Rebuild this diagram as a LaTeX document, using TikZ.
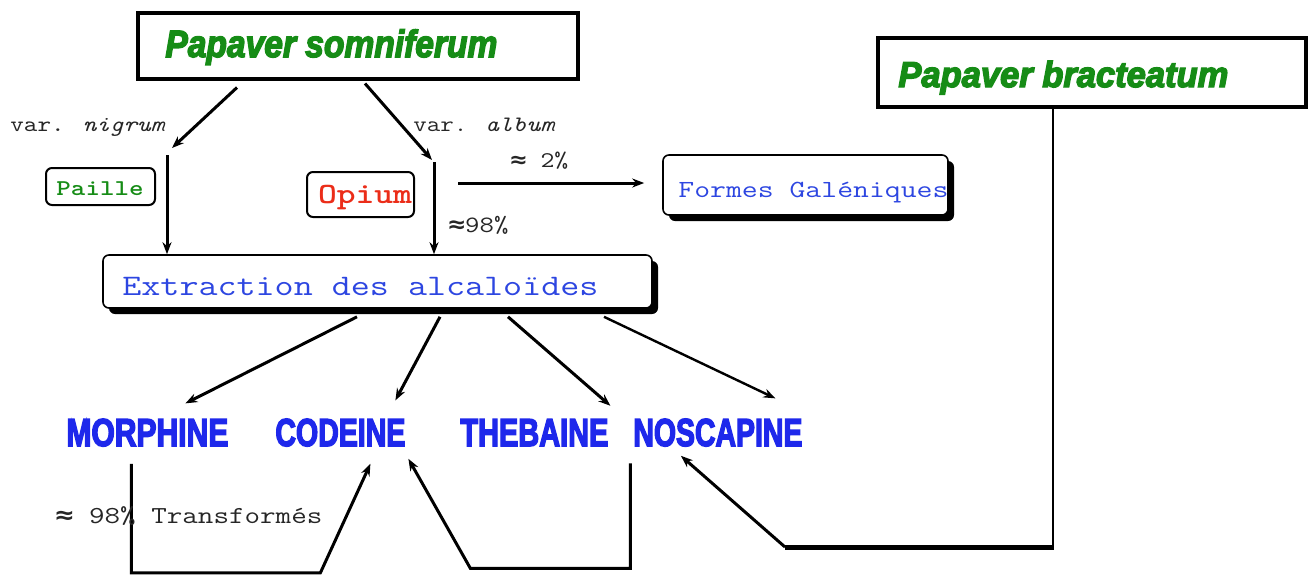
\documentclass[tikz,border=0pt]{standalone}
\usepackage{fontspec}
\usepackage{graphicx}
\setmainfont{Liberation Sans}
\newfontfamily\aprx{DejaVu Sans Mono}
\newfontfamily\heavyfont{Liberation Sans}[BoldFeatures={FakeBold=4},BoldItalicFeatures={FakeBold=4}]
\usetikzlibrary{arrows.meta,calc,shadows}
\definecolor{pgreen}{RGB}{22,140,22}
\definecolor{kblue}{RGB}{30,40,235}
\definecolor{tblue}{RGB}{45,70,225}
\definecolor{ored}{RGB}{235,45,25}
\newcommand\fitw[2]{\resizebox{#1}{\height}{#2}}
\newcommand\ap{{\aprx\bfseries ≈}}
\begin{document}
\begin{tikzpicture}[x=0.5pt,y=-0.5pt,
  arr/.style={line width=1.5pt,-{Stealth[length=6pt,width=4.5pt]}},
  titlebox/.style={draw,line width=2pt,inner sep=0pt},
  smallbox/.style={draw,line width=1pt,rounded corners=3pt,inner sep=0pt},
  shadebox/.style={draw,line width=0.8pt,rounded corners=3pt,inner sep=0pt,fill=white,
    drop shadow={shadow xshift=3pt,shadow yshift=-3pt,opacity=1,fill=black}},
  ptext/.style={inner sep=0pt,anchor=base west,text=pgreen,font={\heavyfont\bfseries\itshape\fontsize{19pt}{19pt}\selectfont}},
  alk/.style={inner sep=0pt,anchor=base west,text=kblue,font={\heavyfont\bfseries\fontsize{19.5pt}{19.5pt}\selectfont}},
  lbl/.style={inner sep=0pt,anchor=base west,text=black!85}
]
\useasboundingbox (0,0) rectangle (1313,574);

% title boxes
\node[titlebox,minimum width=220pt,minimum height=33pt] (som) at (358,45.5) {};
\node[ptext] (somT) at (165,57) {\fitw{166pt}{Papaver somniferum}};
\node[titlebox,minimum width=214pt,minimum height=34.5pt] (brac) at (1092,72.5) {};
\node[ptext,font={\heavyfont\bfseries\itshape\fontsize{18pt}{18pt}\selectfont}] (bracT) at (898,87) {\fitw{165pt}{Papaver bracteatum}};

% small boxes
\node[smallbox,minimum width=54.5pt,minimum height=18.5pt] (paille) at (100.5,186.5) {};
\node[inner sep=0pt,anchor=base,text=pgreen,font={\ttfamily\bfseries\fontsize{11.3pt}{11.3pt}\selectfont}] (pailleT) at (100,195) {\fitw{43.5pt}{Paille}};
\node[smallbox,minimum width=53.5pt,minimum height=22.5pt] (opium) at (360.5,194.5) {};
\node[inner sep=0pt,anchor=base,text=ored,font={\ttfamily\bfseries\fontsize{14.7pt}{14.7pt}\selectfont}] (opiumT) at (365,203) {\fitw{47pt}{Opium}};

% shadowed boxes
\node[shadebox,minimum width=142.5pt,minimum height=30pt] (formes) at (805.5,185) {};
\node[inner sep=0pt,anchor=base west,text=tblue,font={\ttfamily\fontsize{12.3pt}{12.3pt}\selectfont}] (formesT) at (678,197) {\fitw{135pt}{Formes Galéniques}};
\node[shadebox,minimum width=274.5pt,minimum height=26.5pt] (extr) at (377.5,281.5) {};
\node[inner sep=0pt,anchor=base west,text=tblue,font={\ttfamily\fontsize{14.9pt}{14.9pt}\selectfont}] (extrT) at (122,295) {\fitw{238pt}{Extraction des alcaloïdes}};

% alkaloids
\node[alk] (morph) at (66,446) {\fitw{81pt}{MORPHINE}};
\node[alk] (cod) at (275,446) {\fitw{65pt}{CODEINE}};
\node[alk] (theb) at (460,446) {\fitw{74pt}{THEBAINE}};
\node[alk] (nosc) at (633,446) {\fitw{84.5pt}{NOSCAPINE}};

% labels
\node[lbl,font={\ttfamily\fontsize{10.9pt}{10.9pt}\selectfont}] (nigT) at (10,131) {\fitw{77.5pt}{var. \textit{nigrum}}};
\node[lbl,font={\ttfamily\fontsize{11pt}{11pt}\selectfont}] (albT) at (413,131) {\fitw{71pt}{var. \textit{album}}};
\node[lbl,font={\ttfamily\fontsize{11.2pt}{11.2pt}\selectfont}] (p2) at (510,167) {\fitw{29pt}{\ap{} 2\%}};
\node[lbl,font={\ttfamily\fontsize{11.7pt}{11.7pt}\selectfont}] (p98) at (448,232) {\fitw{30pt}{\ap 98\%}};

% coordinates for free ends
\coordinate (nig) at (172,148);
\coordinate (alb) at (432,160);
\coordinate (pl) at (167,155);
\coordinate (op) at (434,162);
\coordinate (g1) at (458,183);

% connectors top
\draw[arr] ($(som.south)+(-121,7)$) -- (nig);
\draw[arr] ($(som.south)+(7,3)$) -- (alb);
\draw[arr] (pl) -- (pl |- extr.north);
\draw[arr] (op) -- (op |- extr.north);
\draw[arr] (g1) -- ($(g1 -| formes.west)+(-18,0)$);

% extraction to alkaloids
\draw[arr] ($(extr.south)+(-20.5,8)$) -- ($(morph.north)+(38,-15)$);
\draw[arr] ($(extr.south)+(62.5,8)$) -- ($(cod.north)+(55,-18)$);
\draw[arr] ($(extr.south)+(130.5,8)$) -- ($(theb.north)+(76,-13)$);
\draw[arr,line width=1.2pt] ($(extr.south)+(226.5,8)$) -- ($(nosc.north)+(57.5,-20)$);

% transformations
\draw[arr] ($(morph.south)+(-16,17)$) -- ++(0,109) -- ++(189,0) -- ($(cod.south)+(30,17)$);
\draw[arr] ($(theb.south)+(96,17)$) -- ++(0,105) -- ++(-160,0) -- ($(cod.south)+(68,12)$);

\coordinate (bc) at ($(brac.south)+(-39,438)$);
\coordinate (bl) at ($(bc)+(-268,0)$);
\draw[line width=1.2pt] (brac.south -| bc) -- (bc);
\draw[line width=2.5pt] ($(bc)+(0.6,0)$) -- (bl);
\draw[arr] (bl) -- ($(nosc.south)+(-37,9)$);

\node[lbl,font={\ttfamily\fontsize{12.2pt}{12.2pt}\selectfont}] (trT) at (55,523) {\fitw{133.5pt}{\ap{} 98\% Transformés}};
\end{tikzpicture}
\end{document}
